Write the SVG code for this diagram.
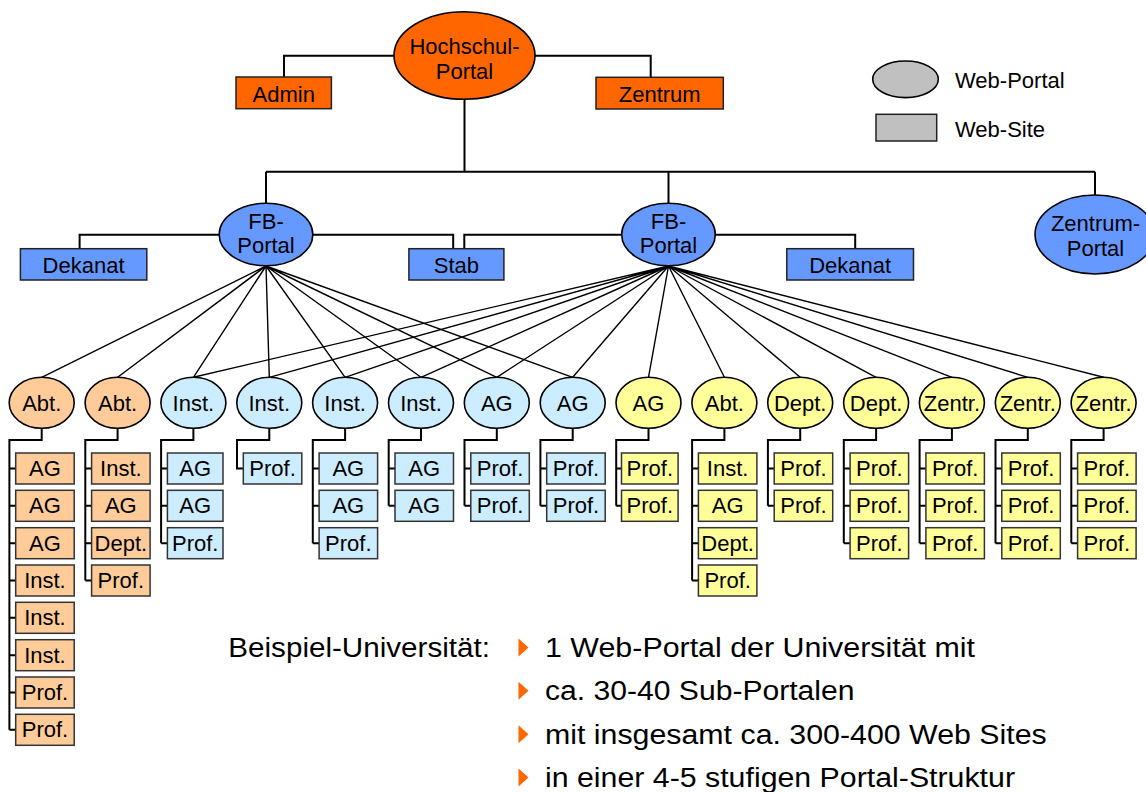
<svg xmlns="http://www.w3.org/2000/svg" width="1146" height="792" viewBox="0 0 1146 792">
<style>
.ln{stroke:#000;stroke-width:2;fill:none}
.fan{stroke:#000;stroke-width:1.4;fill:none}
.el{stroke:#000;stroke-width:1.6}
.bx{stroke:#333;stroke-width:1.5}
.t{font-family:"Liberation Sans",Arial,Helvetica,sans-serif;font-size:22px;text-anchor:middle;fill:#000}
.tl{font-family:"Liberation Sans",Arial,Helvetica,sans-serif;font-size:22px;fill:#000}
.big{font-family:"Liberation Sans",Arial,Helvetica,sans-serif;font-size:27px;fill:#000}
.or{fill:#FF6600}.bl{fill:#6699FF}.pe{fill:#FFCC99}.lb{fill:#CCECFF}.ye{fill:#FFFF99}.gr{fill:#C0C0C0}
.bul{fill:#FF6600}
</style>
<rect width="1146" height="792" fill="#fff"/>

<g id="connectors">
  <path class="ln" d="M395,55.7 H284 V77"/>
  <path class="ln" d="M534.6,55.7 H650.7 V77.3"/>
  <path class="ln" d="M464.5,99.3 V171.7 M266,171.7 H1095 M266,171.7 V203.3 M668.5,171.7 V203.3 M1095,171.7 V195"/>
  <path class="ln" d="M219.3,234.7 H79.6 V248.7"/>
  <path class="ln" d="M312.8,234.7 H453.2 V248.7 M621.8,234.7 H464.3 V248.7"/>
  <path class="ln" d="M715.2,234.7 H855.2 V248.7"/>
  <g id="fan-left">
    <path class="fan" d="M266,266 L41.7,377.3 M266,266 L117.6,377.3 M266,266 L193.4,377.3 M266,266 L269.3,377.3 M266,266 L345.1,377.3 M266,266 L421,377.3 M266,266 L496.8,377.3 M266,266 L572.7,377.3"/>
  </g>
  <g id="fan-right">
    <path class="fan" d="M668.5,266 L193.4,377.3 M668.5,266 L269.3,377.3 M668.5,266 L345.1,377.3 M668.5,266 L421,377.3 M668.5,266 L496.8,377.3 M668.5,266 L572.7,377.3 M668.5,266 L648.5,377.3 M668.5,266 L724.4,377.3 M668.5,266 L800.2,377.3 M668.5,266 L876.1,377.3 M668.5,266 L951.9,377.3 M668.5,266 L1027.8,377.3 M668.5,266 L1103.6,377.3"/>
  </g>
  <g id="child-links">
    <path class="ln" d="M41.7,428.3 V440 H9.4 V729.8 M9.4,468.5 H15.7 M9.4,505.8 H15.7 M9.4,543.2 H15.7 M9.4,580.5 H15.7 M9.4,617.8 H15.7 M9.4,655.2 H15.7 M9.4,692.5 H15.7 M9.4,729.8 H15.7"/>
    <path class="ln" d="M117.6,428.3 V440 H85.3 V580.5 M85.3,468.5 H91.6 M85.3,505.8 H91.6 M85.3,543.2 H91.6 M85.3,580.5 H91.6"/>
    <path class="ln" d="M193.4,428.3 V440 H161.1 V543.2 M161.1,468.5 H167.4 M161.1,505.8 H167.4 M161.1,543.2 H167.4"/>
    <path class="ln" d="M269.3,428.3 V440 H237 V468.5 H243.3"/>
    <path class="ln" d="M345.1,428.3 V440 H312.8 V543.2 M312.8,468.5 H319.1 M312.8,505.8 H319.1 M312.8,543.2 H319.1"/>
    <path class="ln" d="M421,428.3 V440 H388.7 V505.8 M388.7,468.5 H395 M388.7,505.8 H395"/>
    <path class="ln" d="M496.8,428.3 V440 H464.5 V505.8 M464.5,468.5 H470.8 M464.5,505.8 H470.8"/>
    <path class="ln" d="M572.7,428.3 V440 H540.4 V505.8 M540.4,468.5 H546.7 M540.4,505.8 H546.7"/>
    <path class="ln" d="M648.5,428.3 V440 H616.2 V505.8 M616.2,468.5 H621.5 M616.2,505.8 H621.5"/>
    <path class="ln" d="M724.4,428.3 V440 H692.1 V580.5 M692.1,468.5 H698.4 M692.1,505.8 H698.4 M692.1,543.2 H698.4 M692.1,580.5 H698.4"/>
    <path class="ln" d="M800.2,428.3 V440 H767.9 V505.8 M767.9,468.5 H774.2 M767.9,505.8 H774.2"/>
    <path class="ln" d="M876.1,428.3 V440 H843.8 V543.2 M843.8,468.5 H850.1 M843.8,505.8 H850.1 M843.8,543.2 H850.1"/>
    <path class="ln" d="M951.9,428.3 V440 H919.6 V543.2 M919.6,468.5 H925.9 M919.6,505.8 H925.9 M919.6,543.2 H925.9"/>
    <path class="ln" d="M1027.8,428.3 V440 H995.5 V543.2 M995.5,468.5 H1001.8 M995.5,505.8 H1001.8 M995.5,543.2 H1001.8"/>
    <path class="ln" d="M1103.6,428.3 V440 H1071.3 V543.2 M1071.3,468.5 H1077.6 M1071.3,505.8 H1077.6 M1071.3,543.2 H1077.6"/>
  </g>
</g>

<g id="n-hochschul"><ellipse class="el or" cx="464.5" cy="55.5" rx="70.5" ry="43.8"/><text class="t"><tspan x="464.5" y="54.3">Hochschul-</tspan><tspan x="464.5" y="79">Portal</tspan></text></g>
<g id="n-admin"><rect class="bx or" x="236" y="77" width="95.4" height="31.7" style="stroke:#222"/><text class="t" x="283.7" y="101.5">Admin</text></g>
<g id="n-zentrum"><rect class="bx or" x="596" y="77.3" width="127.3" height="31.7" style="stroke:#222"/><text class="t" x="659.7" y="101.5">Zentrum</text></g>
<g id="n-fb1"><ellipse class="el bl" cx="266" cy="234.5" rx="46.8" ry="31.2"/><text class="t"><tspan x="266" y="228.5">FB-</tspan><tspan x="266" y="252.5">Portal</tspan></text></g>
<g id="n-fb2"><ellipse class="el bl" cx="668.5" cy="234.5" rx="46.8" ry="31.2"/><text class="t"><tspan x="668.5" y="228.5">FB-</tspan><tspan x="668.5" y="252.5">Portal</tspan></text></g>
<g id="n-zentrum-portal"><ellipse class="el bl" cx="1095" cy="234.5" rx="60" ry="39.5"/><text class="t"><tspan x="1095.5" y="231">Zentrum-</tspan><tspan x="1095.5" y="256">Portal</tspan></text></g>
<g id="n-dekanat1"><rect class="bx bl" x="20.4" y="248.7" width="126.4" height="31.3" style="stroke:#222"/><text class="t" x="83.6" y="273.3">Dekanat</text></g>
<g id="n-stab"><rect class="bx bl" x="408.9" y="248.7" width="95" height="31.3" style="stroke:#222"/><text class="t" x="456.4" y="273.3">Stab</text></g>
<g id="n-dekanat2"><rect class="bx bl" x="786.8" y="248.7" width="126.7" height="31.3" style="stroke:#222"/><text class="t" x="850.2" y="273.3">Dekanat</text></g>

<g id="legend">
  <ellipse class="el gr" cx="905.5" cy="79.3" rx="32.8" ry="18.3"/>
  <text class="tl" x="955" y="88.3">Web-Portal</text>
  <rect class="bx gr" x="876" y="114.3" width="60.7" height="26.7" style="stroke:#222"/>
  <text class="tl" x="955" y="136.7">Web-Site</text>
</g>

<!-- column portals -->
<g id="n-c0"><ellipse class="el pe" cx="41.7" cy="402.8" rx="32.5" ry="25.5"/><text class="t" x="41.7" y="411">Abt.</text></g>
<g id="n-c1"><ellipse class="el pe" cx="117.6" cy="402.8" rx="32.5" ry="25.5"/><text class="t" x="117.6" y="411">Abt.</text></g>
<g id="n-c2"><ellipse class="el lb" cx="193.4" cy="402.8" rx="32.5" ry="25.5"/><text class="t" x="193.4" y="411">Inst.</text></g>
<g id="n-c3"><ellipse class="el lb" cx="269.3" cy="402.8" rx="32.5" ry="25.5"/><text class="t" x="269.3" y="411">Inst.</text></g>
<g id="n-c4"><ellipse class="el lb" cx="345.1" cy="402.8" rx="32.5" ry="25.5"/><text class="t" x="345.1" y="411">Inst.</text></g>
<g id="n-c5"><ellipse class="el lb" cx="421" cy="402.8" rx="32.5" ry="25.5"/><text class="t" x="421" y="411">Inst.</text></g>
<g id="n-c6"><ellipse class="el lb" cx="496.8" cy="402.8" rx="32.5" ry="25.5"/><text class="t" x="496.8" y="411">AG</text></g>
<g id="n-c7"><ellipse class="el lb" cx="572.7" cy="402.8" rx="32.5" ry="25.5"/><text class="t" x="572.7" y="411">AG</text></g>
<g id="n-c8"><ellipse class="el ye" cx="648.5" cy="402.8" rx="32.5" ry="25.5"/><text class="t" x="648.5" y="411">AG</text></g>
<g id="n-c9"><ellipse class="el ye" cx="724.4" cy="402.8" rx="32.5" ry="25.5"/><text class="t" x="724.4" y="411">Abt.</text></g>
<g id="n-c10"><ellipse class="el ye" cx="800.2" cy="402.8" rx="32.5" ry="25.5"/><text class="t" x="800.2" y="411">Dept.</text></g>
<g id="n-c11"><ellipse class="el ye" cx="876.1" cy="402.8" rx="32.5" ry="25.5"/><text class="t" x="876.1" y="411">Dept.</text></g>
<g id="n-c12"><ellipse class="el ye" cx="951.9" cy="402.8" rx="32.5" ry="25.5"/><text class="t" x="951.9" y="411">Zentr.</text></g>
<g id="n-c13"><ellipse class="el ye" cx="1027.8" cy="402.8" rx="32.5" ry="25.5"/><text class="t" x="1027.8" y="411">Zentr.</text></g>
<g id="n-c14"><ellipse class="el ye" cx="1103.6" cy="402.8" rx="32.5" ry="25.5"/><text class="t" x="1103.6" y="411">Zentr.</text></g>

<!-- column 0 sites -->
<g id="n-c0-0"><rect class="bx pe" x="15.7" y="453" width="58.5" height="31"/><text class="t" x="44.95" y="476">AG</text></g>
<g id="n-c0-1"><rect class="bx pe" x="15.7" y="490.3" width="58.5" height="31"/><text class="t" x="44.95" y="513.3">AG</text></g>
<g id="n-c0-2"><rect class="bx pe" x="15.7" y="527.7" width="58.5" height="31"/><text class="t" x="44.95" y="550.7">AG</text></g>
<g id="n-c0-3"><rect class="bx pe" x="15.7" y="565" width="58.5" height="31"/><text class="t" x="44.95" y="588">Inst.</text></g>
<g id="n-c0-4"><rect class="bx pe" x="15.7" y="602.3" width="58.5" height="31"/><text class="t" x="44.95" y="625.3">Inst.</text></g>
<g id="n-c0-5"><rect class="bx pe" x="15.7" y="639.7" width="58.5" height="31"/><text class="t" x="44.95" y="662.7">Inst.</text></g>
<g id="n-c0-6"><rect class="bx pe" x="15.7" y="677" width="58.5" height="31"/><text class="t" x="44.95" y="700">Prof.</text></g>
<g id="n-c0-7"><rect class="bx pe" x="15.7" y="714.3" width="58.5" height="31"/><text class="t" x="44.95" y="737.3">Prof.</text></g>
<!-- column 1 -->
<g id="n-c1-0"><rect class="bx pe" x="91.6" y="453" width="58.5" height="31"/><text class="t" x="120.85" y="476">Inst.</text></g>
<g id="n-c1-1"><rect class="bx pe" x="91.6" y="490.3" width="58.5" height="31"/><text class="t" x="120.85" y="513.3">AG</text></g>
<g id="n-c1-2"><rect class="bx pe" x="91.6" y="527.7" width="58.5" height="31"/><text class="t" x="120.85" y="550.7">Dept.</text></g>
<g id="n-c1-3"><rect class="bx pe" x="91.6" y="565" width="58.5" height="31"/><text class="t" x="120.85" y="588">Prof.</text></g>
<!-- column 2 -->
<g id="n-c2-0"><rect class="bx lb" x="167.4" y="453" width="55.6" height="31"/><text class="t" x="195.2" y="476">AG</text></g>
<g id="n-c2-1"><rect class="bx lb" x="167.4" y="490.3" width="55.6" height="31"/><text class="t" x="195.2" y="513.3">AG</text></g>
<g id="n-c2-2"><rect class="bx lb" x="167.4" y="527.7" width="55.6" height="31"/><text class="t" x="195.2" y="550.7">Prof.</text></g>
<!-- column 3 -->
<g id="n-c3-0"><rect class="bx lb" x="243.3" y="453" width="58.5" height="31"/><text class="t" x="272.55" y="476">Prof.</text></g>
<!-- column 4 -->
<g id="n-c4-0"><rect class="bx lb" x="319.1" y="453" width="58.5" height="31"/><text class="t" x="348.35" y="476">AG</text></g>
<g id="n-c4-1"><rect class="bx lb" x="319.1" y="490.3" width="58.5" height="31"/><text class="t" x="348.35" y="513.3">AG</text></g>
<g id="n-c4-2"><rect class="bx lb" x="319.1" y="527.7" width="58.5" height="31"/><text class="t" x="348.35" y="550.7">Prof.</text></g>
<!-- column 5 -->
<g id="n-c5-0"><rect class="bx lb" x="395" y="453" width="58.5" height="31"/><text class="t" x="424.25" y="476">AG</text></g>
<g id="n-c5-1"><rect class="bx lb" x="395" y="490.3" width="58.5" height="31"/><text class="t" x="424.25" y="513.3">AG</text></g>
<!-- column 6 -->
<g id="n-c6-0"><rect class="bx lb" x="470.8" y="453" width="58.5" height="31"/><text class="t" x="500.05" y="476">Prof.</text></g>
<g id="n-c6-1"><rect class="bx lb" x="470.8" y="490.3" width="58.5" height="31"/><text class="t" x="500.05" y="513.3">Prof.</text></g>
<!-- column 7 -->
<g id="n-c7-0"><rect class="bx lb" x="546.7" y="453" width="58.5" height="31"/><text class="t" x="575.95" y="476">Prof.</text></g>
<g id="n-c7-1"><rect class="bx lb" x="546.7" y="490.3" width="58.5" height="31"/><text class="t" x="575.95" y="513.3">Prof.</text></g>
<!-- column 8 -->
<g id="n-c8-0"><rect class="bx ye" x="621.5" y="453" width="56.6" height="31"/><text class="t" x="649.8" y="476">Prof.</text></g>
<g id="n-c8-1"><rect class="bx ye" x="621.5" y="490.3" width="56.6" height="31"/><text class="t" x="649.8" y="513.3">Prof.</text></g>
<!-- column 9 -->
<g id="n-c9-0"><rect class="bx ye" x="698.4" y="453" width="58.5" height="31"/><text class="t" x="727.65" y="476">Inst.</text></g>
<g id="n-c9-1"><rect class="bx ye" x="698.4" y="490.3" width="58.5" height="31"/><text class="t" x="727.65" y="513.3">AG</text></g>
<g id="n-c9-2"><rect class="bx ye" x="698.4" y="527.7" width="58.5" height="31"/><text class="t" x="727.65" y="550.7">Dept.</text></g>
<g id="n-c9-3"><rect class="bx ye" x="698.4" y="565" width="58.5" height="31"/><text class="t" x="727.65" y="588">Prof.</text></g>
<!-- column 10 -->
<g id="n-c10-0"><rect class="bx ye" x="774.2" y="453" width="58.5" height="31"/><text class="t" x="803.45" y="476">Prof.</text></g>
<g id="n-c10-1"><rect class="bx ye" x="774.2" y="490.3" width="58.5" height="31"/><text class="t" x="803.45" y="513.3">Prof.</text></g>
<!-- column 11 -->
<g id="n-c11-0"><rect class="bx ye" x="850.1" y="453" width="58.5" height="31"/><text class="t" x="879.35" y="476">Prof.</text></g>
<g id="n-c11-1"><rect class="bx ye" x="850.1" y="490.3" width="58.5" height="31"/><text class="t" x="879.35" y="513.3">Prof.</text></g>
<g id="n-c11-2"><rect class="bx ye" x="850.1" y="527.7" width="58.5" height="31"/><text class="t" x="879.35" y="550.7">Prof.</text></g>
<!-- column 12 -->
<g id="n-c12-0"><rect class="bx ye" x="925.9" y="453" width="58.5" height="31"/><text class="t" x="955.15" y="476">Prof.</text></g>
<g id="n-c12-1"><rect class="bx ye" x="925.9" y="490.3" width="58.5" height="31"/><text class="t" x="955.15" y="513.3">Prof.</text></g>
<g id="n-c12-2"><rect class="bx ye" x="925.9" y="527.7" width="58.5" height="31"/><text class="t" x="955.15" y="550.7">Prof.</text></g>
<!-- column 13 -->
<g id="n-c13-0"><rect class="bx ye" x="1001.8" y="453" width="58.5" height="31"/><text class="t" x="1031.05" y="476">Prof.</text></g>
<g id="n-c13-1"><rect class="bx ye" x="1001.8" y="490.3" width="58.5" height="31"/><text class="t" x="1031.05" y="513.3">Prof.</text></g>
<g id="n-c13-2"><rect class="bx ye" x="1001.8" y="527.7" width="58.5" height="31"/><text class="t" x="1031.05" y="550.7">Prof.</text></g>
<!-- column 14 -->
<g id="n-c14-0"><rect class="bx ye" x="1077.6" y="453" width="58.5" height="31"/><text class="t" x="1106.85" y="476">Prof.</text></g>
<g id="n-c14-1"><rect class="bx ye" x="1077.6" y="490.3" width="58.5" height="31"/><text class="t" x="1106.85" y="513.3">Prof.</text></g>
<g id="n-c14-2"><rect class="bx ye" x="1077.6" y="527.7" width="58.5" height="31"/><text class="t" x="1106.85" y="550.7">Prof.</text></g>

<g id="caption">
  <text class="big" x="228.3" y="656.7" textLength="261.7" lengthAdjust="spacingAndGlyphs">Beispiel-Universität:</text>
  <polygon class="bul" points="518.5,638.5 528.5,647.5 518.5,656.5"/>
  <text class="big" x="545" y="656.7" textLength="430" lengthAdjust="spacingAndGlyphs">1 Web-Portal der Universität mit</text>
  <polygon class="bul" points="518.5,681.8 528.5,690.8 518.5,699.8"/>
  <text class="big" x="545" y="700" textLength="309.5" lengthAdjust="spacingAndGlyphs">ca. 30-40 Sub-Portalen</text>
  <polygon class="bul" points="518.5,725.3 528.5,734.3 518.5,743.3"/>
  <text class="big" x="545" y="743.5" textLength="501.7" lengthAdjust="spacingAndGlyphs">mit insgesamt ca. 300-400 Web Sites</text>
  <polygon class="bul" points="518.5,768.5 528.5,777.5 518.5,786.5"/>
  <text class="big" x="545" y="786.7" textLength="470" lengthAdjust="spacingAndGlyphs">in einer 4-5 stufigen Portal-Struktur</text>
</g>
</svg>
